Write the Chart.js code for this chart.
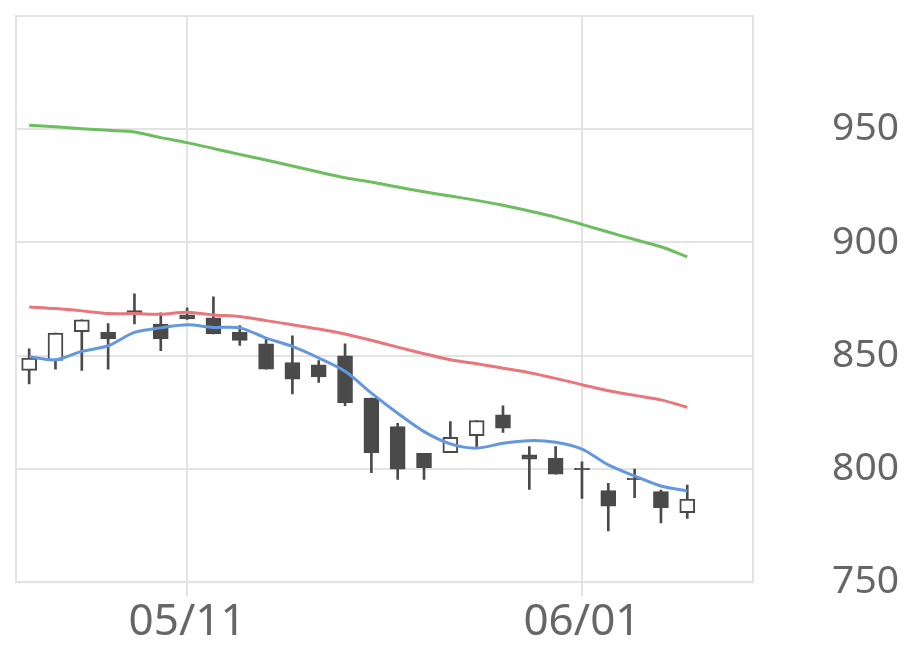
<!DOCTYPE html>
<html>
<head>
<meta charset="utf-8">
<script src="https://cdn.jsdelivr.net/npm/chart.js@4"></script>
<style>
  body { margin: 0; background: #fff; }
  #wrap { width: 920px; height: 669px; }
</style>
</head>
<body>
<div id="wrap"><canvas id="myChart"></canvas></div>
<script>
// trading days (last two slots are empty)
const dates = ["05/01", "05/04", "05/05", "05/06", "05/07", "05/08",
  "05/11", "05/12", "05/13", "05/14", "05/15",
  "05/18", "05/19", "05/20", "05/21", "05/22",
  "05/25", "05/26", "05/27", "05/28", "05/29",
  "06/01", "06/02", "06/03", "06/04", "06/05",
  "06/08", "06/09"];
const shownDates = ["05/11", "06/01"];

const opens = [843.5, 847.9, 860.6, 860.3, 869.9, 864.0, 868.1, 866.7, 860.3, 855.2,
  847.0, 846.0, 850.0, 831.3, 818.7, 806.9, 807.2, 814.7, 823.9, 806.2,
  804.7, 800.3, 790.4, 795.9, 790.0, 780.7];
const highs = [853.0, 860.0, 865.9, 864.2, 877.3, 868.9, 871.1, 876.0, 863.3, 857.4,
  858.8, 847.9, 855.2, 831.3, 820.2, 806.9, 820.9, 821.4, 827.9, 809.9,
  809.9, 803.2, 793.7, 799.9, 790.7, 792.9];
const lows = [837.5, 844.1, 843.5, 844.1, 864.0, 852.2, 866.0, 859.6, 854.6, 844.1,
  833.1, 838.2, 827.9, 798.4, 795.4, 795.4, 807.2, 809.6, 816.1, 791.0,
  797.7, 787.0, 772.6, 787.3, 776.2, 778.2];
const closes = [849.0, 860.0, 865.9, 857.4, 868.5, 857.4, 866.2, 859.6, 856.8, 844.1,
  839.7, 840.6, 829.3, 807.2, 799.9, 800.6, 814.0, 821.4, 818.0, 804.3,
  797.7, 799.7, 783.6, 795.3, 782.9, 786.7];

const maShort = [849.6, 848.2, 851.9, 854.4, 860.3, 862.3, 863.7, 862.5, 862.3, 857.8,
  854.1, 849.0, 843.1, 833.5, 824.6, 816.5, 811.1, 809.2, 811.4, 812.5,
  811.8, 808.8, 801.8, 796.9, 792.5, 790.3];
const maMid = [871.5, 870.8, 869.8, 868.6, 868.6, 868.3, 869.2, 868.0, 867.3, 865.5,
  863.7, 861.8, 859.6, 856.8, 853.8, 850.9, 848.2, 846.5, 844.5, 842.5,
  840.0, 837.2, 834.5, 832.5, 830.5, 827.2];
const maLong = [951.8, 951.1, 950.2, 949.5, 948.8, 946.3, 944.1, 941.5, 938.9, 936.4,
  933.8, 931.1, 928.6, 926.7, 924.5, 922.4, 920.5, 918.6, 916.4, 913.9,
  911.2, 908.0, 904.6, 901.3, 898.1, 893.7];

const yTicks = [750, 800, 850, 900, 950];

const candleColor = "#4a4a4a";
const gridColor = "#e3e3e3";

function getBodies() {
  let arr = [];
  for (let i = 0; i < opens.length; i++) {
    arr.push([opens[i], closes[i]]);
  }
  return arr;
}
function getWicks() {
  let arr = [];
  for (let i = 0; i < lows.length; i++) {
    arr.push([lows[i], highs[i]]);
  }
  return arr;
}
function getBodyFill() {
  return opens.map((o, i) => (closes[i] > o ? "#ffffff" : candleColor));
}

// box round the plot area
const frame = {
  id: "frame",
  beforeDatasetsDraw(chart) {
    const { ctx, chartArea } = chart;
    ctx.save();
    ctx.strokeStyle = gridColor;
    ctx.lineWidth = 2;
    ctx.strokeRect(chartArea.left, chartArea.top, chartArea.right - chartArea.left, chartArea.bottom - chartArea.top);
    ctx.restore();
  },
};

const ctx = document.getElementById("myChart").getContext("2d");
const myChart = new Chart(ctx, {
  type: "bar",
  data: {
    labels: dates,
    datasets: [
      {
        type: "line",
        data: maShort,
        borderColor: "#6498dc",
        borderWidth: 3,
        pointRadius: 0,
        tension: 0.3,
        order: 0,
      },
      {
        type: "line",
        data: maMid,
        borderColor: "#e8767a",
        borderWidth: 3,
        pointRadius: 0,
        tension: 0.3,
        order: 0,
      },
      {
        type: "line",
        data: maLong,
        borderColor: "#6cbe5e",
        borderWidth: 3,
        pointRadius: 0,
        tension: 0.3,
        order: 0,
      },
      {
        data: getBodies(),
        backgroundColor: getBodyFill(),
        borderColor: candleColor,
        borderWidth: 2,
        borderSkipped: false,
        barThickness: 15,
        grouped: false,
        order: 1,
      },
      {
        data: getWicks(),
        backgroundColor: candleColor,
        borderWidth: 0,
        barThickness: 2,
        grouped: false,
        order: 2,
      },
    ],
  },
  options: {
    animation: false,
    responsive: true,
    maintainAspectRatio: false,
    layout: {
      padding: { left: 16, top: 16, right: 21, bottom: 20 },
    },
    plugins: {
      legend: { display: false },
      tooltip: { enabled: false },
    },
    scales: {
      x: {
        offset: true,
        grid: {
          color: gridColor,
          lineWidth: 2,
          offset: false,
          tickLength: 14,
        },
        border: { color: gridColor, width: 2 },
        ticks: {
          autoSkip: false,
          maxRotation: 0,
          padding: 0,
          color: "#666",
          font: { family: "Noto Sans", size: 44 },
          callback: function (value) {
            const lab = this.getLabelForValue(value);
            return shownDates.includes(lab) ? lab : null;
          },
        },
      },
      y: {
        position: "right",
        min: 750,
        max: 1000,
        afterFit: (scale) => {
          scale.paddingTop = 0;
        },
        grid: { color: gridColor, lineWidth: 2, tickLength: 79, tickColor: "rgba(0,0,0,0)" },
        border: { color: gridColor, width: 2 },
        ticks: {
          stepSize: 50,
          padding: 0,
          color: "#666",
          font: { family: "Noto Sans", size: 39 },
          callback: (value) => (yTicks.includes(value) ? value : null),
        },
      },
    },
  },
  plugins: [frame],
});
</script>
</body>
</html>
